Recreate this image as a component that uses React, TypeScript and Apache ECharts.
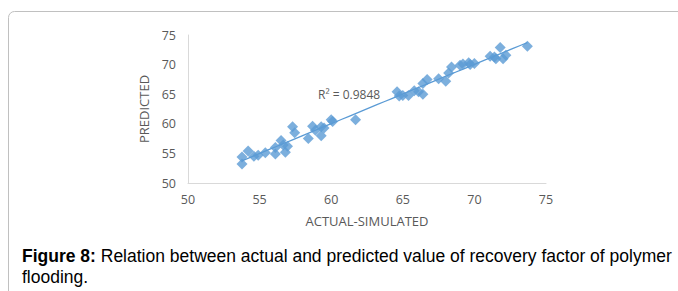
import React, { useEffect, useRef } from "react";
import * as echarts from "echarts";

const actual = [
  53.77, 53.77, 54.2, 54.6, 54.9, 55.4, 56.1, 56.1, 56.5, 56.65, 56.8, 56.95,
  57.3, 57.45, 58.4, 58.7, 58.9, 59.3, 59.3, 59.5, 60.0, 60.1, 61.7,
  64.6, 64.75, 65.0, 65.4, 65.8, 66.1, 66.4, 66.4, 66.7, 67.5, 68.0, 68.2,
  68.4, 69.0, 69.2, 69.6, 69.7, 70.0, 71.1, 71.4, 71.5, 71.8, 72.0, 72.2, 73.7,
];
const predicted = [
  53.2, 54.4, 55.4, 54.5, 54.7, 55.1, 54.9, 56.0, 57.2, 56.4, 55.2, 56.2,
  59.5, 58.5, 57.5, 59.6, 58.9, 58.0, 59.5, 59.3, 60.7, 60.4, 60.7,
  65.4, 64.7, 64.8, 64.8, 65.6, 65.4, 66.8, 65.0, 67.5, 67.6, 67.2, 68.6,
  69.6, 69.9, 70.1, 70.3, 70.0, 70.2, 71.4, 71.3, 71.0, 72.9, 71.0, 71.6, 73.1,
];
const xTicks = [50, 55, 60, 65, 70, 75];
const yTicks = [50, 55, 60, 65, 70, 75];
const r2Label = "R² = 0.9848";
const xName = "ACTUAL-SIMULATED";
const yName = "PREDICTED";
const captionBold = "Figure 8:";
const captionRest1 = " Relation between actual and predicted value of recovery factor of polymer";
const captionRest2 = "flooding.";

function quadFit(xs: number[], ys: number[]) {
  const n = xs.length;
  const s = [0, 0, 0, 0, 0];
  const t = [0, 0, 0];
  for (let i = 0; i < n; i++) {
    const x = xs[i];
    const y = ys[i];
    let p = 1;
    for (let k = 0; k < 5; k++) {
      s[k] += p;
      if (k < 3) t[k] += p * y;
      p *= x;
    }
  }
  const A = [
    [s[0], s[1], s[2], t[0]],
    [s[1], s[2], s[3], t[1]],
    [s[2], s[3], s[4], t[2]],
  ];
  for (let i = 0; i < 3; i++) {
    let piv = i;
    for (let r = i + 1; r < 3; r++) if (Math.abs(A[r][i]) > Math.abs(A[piv][i])) piv = r;
    [A[i], A[piv]] = [A[piv], A[i]];
    for (let r = 0; r < 3; r++) {
      if (r === i) continue;
      const f = A[r][i] / A[i][i];
      for (let c = i; c < 4; c++) A[r][c] -= f * A[i][c];
    }
  }
  return [A[0][3] / A[0][0], A[1][3] / A[1][1], A[2][3] / A[2][2]];
}

export default function App() {
  const ref = useRef<HTMLDivElement>(null);
  useEffect(() => {
    if (!ref.current) return;
    const chart = echarts.init(ref.current, undefined, { renderer: "svg" });
    const [a, b, c] = quadFit(actual, predicted);
    const xmin = Math.min(...actual);
    const xmax = Math.max(...actual);
    const trend: number[][] = [];
    for (let i = 0; i <= 40; i++) {
      const x = xmin + ((xmax - xmin) * i) / 40;
      trend.push([x, a + b * x + c * x * x]);
    }
    const labelFont = { color: "#595959", fontSize: 12, fontFamily: "Open Sans" };
    chart.setOption({
      animation: false,
      backgroundColor: "#ffffff",
      grid: { left: 188, right: 132, top: 35, bottom: 108 },
      xAxis: {
        type: "value",
        min: xTicks[0],
        max: xTicks[xTicks.length - 1],
        interval: 5,
        name: xName,
        nameLocation: "middle",
        nameGap: 31,
        nameTextStyle: { ...labelFont, fontSize: 13 },
        axisLine: { show: true, lineStyle: { color: "#d9d9d9" } },
        axisTick: { show: false },
        splitLine: { show: false },
        axisLabel: { ...labelFont, fontSize: 12.5, margin: 10 },
      },
      yAxis: {
        type: "value",
        min: yTicks[0],
        max: yTicks[yTicks.length - 1],
        interval: 5,
        name: yName,
        nameLocation: "middle",
        nameGap: 37,
        nameTextStyle: { ...labelFont, fontSize: 13 },
        axisLine: { show: true, lineStyle: { color: "#d9d9d9" } },
        axisTick: { show: false },
        splitLine: { show: false },
        axisLabel: { ...labelFont, fontSize: 12.5, margin: 12 },
      },
      series: [
        {
          type: "line",
          data: trend,
          showSymbol: false,
          smooth: false,
          lineStyle: { color: "#5b9bd5", width: 1.3 },
          z: 1,
        },
        {
          type: "scatter",
          data: actual.map((x, i) => [x, predicted[i]]),
          symbol: "diamond",
          symbolSize: 11,
          itemStyle: { color: "#5b9bd5" },
          z: 2,
        },
      ],
      graphic: [
        {
          type: "rect",
          shape: { x: 8.5, y: 11.5, width: 700, height: 300, r: 6 },
          style: { fill: "none", stroke: "#c0c0c0", lineWidth: 1 },
          silent: true,
        },
        {
          type: "text",
          x: 318,
          y: 88,
          style: { text: r2Label, fill: "#595959", fontSize: 12, fontFamily: "Open Sans" },
        },
        {
          type: "text",
          x: 22,
          y: 245,
          style: {
            text: "{b|" + captionBold + "}" + captionRest1 + "\n" + captionRest2,
            fill: "#000000",
            fontSize: 17.5,
            fontFamily: "Liberation Sans",
            lineHeight: 21,
            rich: { b: { fontWeight: "bold", fontSize: 17.5, fontFamily: "Liberation Sans", lineHeight: 21 } },
          },
        },
      ],
    });
    return () => chart.dispose();
  }, []);
  return (
    <div
      ref={ref}
      style={{ position: "fixed", left: 0, top: 0, width: 678, height: 291 }}
    />
  );
}
